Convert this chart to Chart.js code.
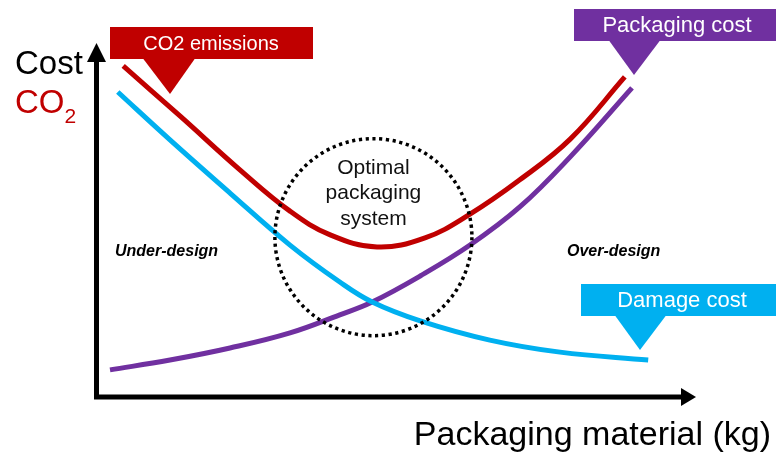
<!DOCTYPE html>
<html>
<head>
<meta charset="utf-8">
<script src="https://cdn.jsdelivr.net/npm/chart.js@4.4.1/dist/chart.umd.min.js"></script>
<style>
  html, body { margin: 0; padding: 0; background: #ffffff; }
  #wrap { width: 776px; height: 452px; }
</style>
</head>
<body>
<div id="wrap"><canvas id="chart" width="776" height="452"></canvas></div>
<script>
// Packaging material (kg, relative scale) vs. cost / CO2 (relative scale)
const co2X = [0.47, 1.42, 2.42, 3.25, 3.92, 4.70, 5.50, 6.25, 7.08, 7.92, 8.83];
const co2Y = [8.78, 7.45, 6.02, 4.93, 4.30, 3.98, 4.22, 4.85, 5.76, 6.84, 8.49];

const damageX = [0.38, 1.25, 2.25, 3.25, 4.08, 4.62, 5.42, 6.58, 7.75, 9.22];
const damageY = [8.09, 6.82, 5.41, 4.03, 3.05, 2.52, 2.02, 1.51, 1.19, 0.98];

const packagingX = [0.25, 1.25, 2.25, 3.25, 4.08, 4.62, 5.42, 6.25, 7.08, 7.92, 8.95];
const packagingY = [0.72, 0.98, 1.30, 1.70, 2.18, 2.52, 3.21, 4.03, 5.04, 6.37, 8.20];

// Optimum zone (centre in data units)
const optimumCenter = { x: 4.64, y: 4.24 };

const axisTitleX = 'Packaging material (kg)';
const axisTitleY1 = 'Cost';
const axisTitleY2 = 'CO';
const optimumLines = ['Optimal', 'packaging', 'system'];
const zoneLabels = ['Under-design', 'Over-design'];
const seriesLabels = ['CO2 emissions', 'Packaging cost', 'Damage cost'];

const RED = '#C00000';
const BLUE = '#00B0F0';
const PURPLE = '#7030A0';
const FONT = '"Liberation Sans", Arial, sans-serif';

function pts(xs, ys) { return xs.map((x, i) => ({ x, y: ys[i] })); }

function callout(ctx, box, tip, color, text, size) {
  ctx.save();
  ctx.fillStyle = color;
  ctx.fillRect(box.x, box.y, box.w, box.h);
  ctx.beginPath();
  ctx.moveTo(tip.bx1, box.y + box.h - 0.5);
  ctx.lineTo(tip.bx2, box.y + box.h - 0.5);
  ctx.lineTo(tip.x, tip.y);
  ctx.closePath();
  ctx.fill();
  ctx.fillStyle = '#ffffff';
  ctx.font = size + 'px ' + FONT;
  ctx.textAlign = 'center';
  ctx.textBaseline = 'middle';
  ctx.fillText(text, tip.tx, box.y + box.h / 2 + 1);
  ctx.restore();
}

const decorations = {
  id: 'decorations',
  beforeDatasetsDraw(chart) {
    const { ctx, chartArea: a } = chart;
    ctx.save();
    ctx.fillStyle = '#000';
    ctx.strokeStyle = '#000';
    ctx.lineWidth = 5;
    // axes lines
    ctx.beginPath();
    ctx.moveTo(a.left + 1.5, 58);
    ctx.lineTo(a.left + 1.5, a.bottom);
    ctx.lineTo(682, a.bottom);
    ctx.stroke();
    // arrow heads
    ctx.beginPath();
    ctx.moveTo(a.left + 1.5, 43);
    ctx.lineTo(a.left + 11, 62);
    ctx.lineTo(a.left - 8, 62);
    ctx.closePath();
    ctx.fill();
    ctx.beginPath();
    ctx.moveTo(696, a.bottom);
    ctx.lineTo(681, a.bottom - 9);
    ctx.lineTo(681, a.bottom + 9);
    ctx.closePath();
    ctx.fill();

    // axis titles
    ctx.textBaseline = 'alphabetic';
    ctx.textAlign = 'left';
    ctx.font = '33px ' + FONT;
    ctx.fillStyle = '#000';
    ctx.fillText(axisTitleY1, 15, 74);
    ctx.fillStyle = RED;
    ctx.fillText(axisTitleY2, 15, 113);
    const w = ctx.measureText(axisTitleY2).width;
    ctx.font = '21px ' + FONT;
    ctx.fillText('2', 15 + w, 123);
    ctx.fillStyle = '#000';
    ctx.textAlign = 'right';
    ctx.font = '34px ' + FONT;
    ctx.fillText(axisTitleX, 771, 445);

    // zone labels
    ctx.font = 'italic bold 16px ' + FONT;
    ctx.textAlign = 'left';
    ctx.textBaseline = 'middle';
    ctx.fillText(zoneLabels[0], 115, 252);
    ctx.fillText(zoneLabels[1], 567, 252);
    ctx.restore();
  },
  afterDatasetsDraw(chart) {
    const { ctx } = chart;
    const xs = chart.scales.x, ys = chart.scales.y;
    const cx = xs.getPixelForValue(optimumCenter.x);
    const cy = ys.getPixelForValue(optimumCenter.y);
    ctx.save();
    // dotted optimum circle
    ctx.strokeStyle = '#000';
    ctx.lineWidth = 3.5;
    ctx.setLineDash([3.2, 3.6]);
    ctx.beginPath();
    ctx.arc(cx, cy, 98.5, 0, Math.PI * 2);
    ctx.stroke();
    ctx.setLineDash([]);
    ctx.fillStyle = '#111';
    ctx.font = '21px ' + FONT;
    ctx.textAlign = 'center';
    ctx.textBaseline = 'middle';
    optimumLines.forEach((t, i) => ctx.fillText(t, cx, cy - 69 + i * 25.5));
    ctx.restore();

    // series callouts
    callout(ctx, { x: 110, y: 27, w: 203, h: 32 },
      { bx1: 143, bx2: 195, x: 170, y: 94, tx: 211 }, RED, seriesLabels[0], 20);
    callout(ctx, { x: 574, y: 9, w: 202, h: 32 },
      { bx1: 609, bx2: 660, x: 634, y: 75, tx: 677 }, PURPLE, seriesLabels[1], 22);
    callout(ctx, { x: 581, y: 284, w: 195, h: 32 },
      { bx1: 615, bx2: 666, x: 640, y: 350, tx: 682 }, BLUE, seriesLabels[2], 22);
  }
};

const lineDefaults = {
  showLine: true,
  fill: false,
  borderWidth: 5,
  pointRadius: 0,
  pointHoverRadius: 0,
  tension: 0.4,
  clip: false
};

new Chart(document.getElementById('chart'), {
  type: 'scatter',
  data: {
    datasets: [
      Object.assign({ label: seriesLabels[2], data: pts(damageX, damageY), borderColor: BLUE }, lineDefaults),
      Object.assign({ label: seriesLabels[1], data: pts(packagingX, packagingY), borderColor: PURPLE }, lineDefaults),
      Object.assign({ label: seriesLabels[0], data: pts(co2X, co2Y), borderColor: RED }, lineDefaults)
    ]
  },
  options: {
    responsive: false,
    animation: false,
    events: [],
    layout: { padding: { left: 95, right: 81, top: 20, bottom: 55 } },
    scales: {
      x: { type: 'linear', min: 0, max: 10, display: false },
      y: { type: 'linear', min: 0, max: 10, display: false }
    },
    plugins: {
      legend: { display: false },
      tooltip: { enabled: false },
      title: { display: false }
    }
  },
  plugins: [decorations]
});
</script>
</body>
</html>
